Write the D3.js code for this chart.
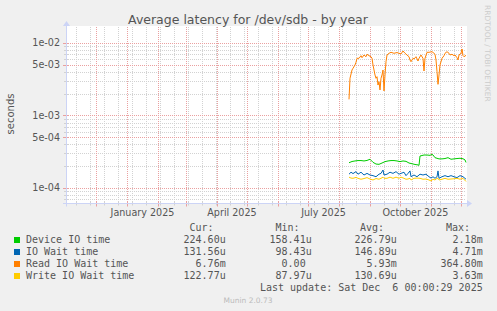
<!DOCTYPE html>
<html><head><meta charset="utf-8">
<script src="https://cdn.jsdelivr.net/npm/d3@7"></script>
<style>html,body{margin:0;padding:0;background:#f0f0f0;} svg{display:block;} text{white-space:pre;}</style>
</head><body><svg id="c" width="497" height="311"></svg>
<script>
// ---------- data ----------
const deviceDates = ["2025-08-11","2025-08-14","2025-08-17","2025-08-20","2025-08-23","2025-08-26","2025-08-29","2025-09-01","2025-09-04","2025-09-07","2025-09-10","2025-09-13","2025-09-16","2025-09-19","2025-09-22","2025-09-25","2025-09-28","2025-10-01","2025-10-04","2025-10-07","2025-10-10","2025-10-13","2025-10-16","2025-10-19","2025-10-20","2025-10-21","2025-10-25","2025-10-28","2025-10-31","2025-11-02","2025-11-03","2025-11-05","2025-11-09","2025-11-12","2025-11-15","2025-11-18","2025-11-21","2025-11-24","2025-11-27","2025-11-30","2025-12-03","2025-12-05","2025-12-06"];
const deviceValues = [223,232,236,239,239,236,240,249,226,214,212,221,231,236,239,239,236,231,236,233,221,216,211,208,205,276,285,285,282,291,285,262,252,252,255,262,249,252,255,257,253,244,225]; // µs

const waitDates = ["2025-08-11","2025-08-13","2025-08-15","2025-08-18","2025-08-20","2025-08-23","2025-08-26","2025-08-29","2025-09-01","2025-09-04","2025-09-07","2025-09-10","2025-09-12","2025-09-14","2025-09-15","2025-09-18","2025-09-21","2025-09-24","2025-09-27","2025-09-30","2025-10-02","2025-10-05","2025-10-07","2025-10-09","2025-10-11","2025-10-12","2025-10-15","2025-10-18","2025-10-21","2025-10-24","2025-10-27","2025-10-30","2025-11-01","2025-11-03","2025-11-05","2025-11-07","2025-11-08","2025-11-09","2025-11-12","2025-11-15","2025-11-18","2025-11-21","2025-11-24","2025-11-27","2025-11-30","2025-12-03","2025-12-06"];
const ioWaitValues = [155,165,158,168,155,165,151,159,151,148,143,155,159,177,151,155,165,159,168,155,159,165,148,159,172,143,151,143,155,151,155,143,137,143,136,143,172,136,143,148,143,148,143,139,148,143,132]; // µs
const writeWaitValues = [141,137,136,140,136,132,135,139,133,129,135,132,136,141,136,136,141,136,141,136,141,136,132,133,136,129,136,137,136,132,133,129,125,132,129,136,136,129,132,136,132,133,134,136,132,136,123]; // µs

const readDates = ["2025-08-11","2025-08-12","2025-08-14","2025-08-15","2025-08-17","2025-08-18","2025-08-19","2025-08-21","2025-08-23","2025-08-24","2025-08-26","2025-08-28","2025-08-29","2025-08-31","2025-09-02","2025-09-03","2025-09-04","2025-09-06","2025-09-07","2025-09-08","2025-09-09","2025-09-10","2025-09-11","2025-09-12","2025-09-13","2025-09-14","2025-09-15","2025-09-16","2025-09-17","2025-09-18","2025-09-20","2025-09-22","2025-09-25","2025-09-28","2025-10-02","2025-10-04","2025-10-06","2025-10-08","2025-10-10","2025-10-11","2025-10-12","2025-10-14","2025-10-15","2025-10-17","2025-10-19","2025-10-20","2025-10-22","2025-10-24","2025-10-25","2025-10-26","2025-10-28","2025-10-30","2025-11-02","2025-11-04","2025-11-05","2025-11-06","2025-11-07","2025-11-08","2025-11-09","2025-11-10","2025-11-12","2025-11-14","2025-11-15","2025-11-17","2025-11-19","2025-11-20","2025-11-22","2025-11-24","2025-11-25","2025-11-27","2025-11-28","2025-11-29","2025-12-01","2025-12-02","2025-12-03","2025-12-04","2025-12-06"];
const readWaitValues = [1.67,3.26,4.24,4.48,4.97,5.42,6.15,6.15,6.68,6.27,6.83,6.47,6.99,6.68,6.47,6.15,4.97,3.62,3.26,3.43,2.63,2.93,2.25,3.26,3.62,4.24,2.18,3.62,5.52,6.83,7.21,7.44,7.21,7.38,7.05,7.76,7.21,6.83,6.47,5.83,5.52,6.15,6.02,6.47,5.64,6.15,6.83,6.15,4.11,6.15,7.44,7.44,7.59,7.21,6.99,5.83,4.02,2.69,3.62,4.97,6.15,6.68,7.21,7.59,7.21,6.83,6.99,6.68,6.83,6.27,5.83,6.83,7.21,8.27,6.68,6.47,6.76]; // ms

const seriesNames = ["Device IO time","IO Wait time","Read IO Wait time","Write IO Wait time"];
const seriesColors = ["#00cc00","#0066b3","#ff8000","#ffcc00"];
const curValues = ["224.60u","131.56u","6.76m","122.77u"];
const minValues = ["158.41u","98.43u","0.00\u00a0","87.97u"];
const avgValues = ["226.79u","146.89u","5.93m","130.69u"];
const maxValues = ["2.18m","4.71m","364.80m","3.63m"];

const yTickValues = [1e-4,5e-4,1e-3,5e-3,1e-2];
const yTickLabels = ["1e-04","5e-04","1e-03","5e-03","1e-02"];
const xLabelMonths = ["2025-01-01","2025-04-01","2025-07-01","2025-10-01"];
const xLabelTexts = ["January 2025","April 2025","July 2025","October 2025"];

const titleText = "Average latency for /dev/sdb - by year";
const yAxisTitle = "seconds";
const lastUpdate = "Last update: Sat Dec  6 00:00:29 2025";
const watermark = "RRDTOOL / TOBI OETIKER";
const footer = "Munin 2.0.73";

// ---------- drawing ----------
const svg = d3.select("#c");
const parse = d3.utcParse("%Y-%m-%d");
const endTime = new Date(Date.UTC(2025,11,6,0,0,29));
const startTime = new Date(+endTime - 400*864e5);
const L = 66, R = 466, T = 27, B = 203.5;
const x = d3.scaleUtc().domain([startTime,endTime]).range([L,R]);
const y = d3.scaleLog().domain([6.11e-5,1.662e-2]).range([B,T]);
const px = v => Math.round(v) + 0.5;

svg.append("rect").attr("width",497).attr("height",311).attr("fill","#f0f0f0");
svg.append("rect").attr("x",L).attr("y",T-1).attr("width",R-L+1).attr("height",B-T+1).attr("fill","#ffffff");

const FONT = "DejaVu Sans, sans-serif";
const MINOR = "#d2d2d2", MAJOR = "#eaa0a0", AXIS = "#ccd4f6", TEXTC = "#555555";

// horizontal grid
const minorY = [];
for (let k=-5;k<=-2;k++) for (let m=1;m<=9;m++){
  const v = m*Math.pow(10,k);
  if (v>=y.domain()[0] && v<=y.domain()[1] && !yTickValues.some(t=>Math.abs(t-v)/v<1e-6)) minorY.push(v);
}
const g = svg.append("g");
g.selectAll(".hm").data(minorY).join("line")
  .attr("x1",L).attr("x2",R).attr("y1",d=>px(y(d))).attr("y2",d=>px(y(d)))
  .attr("stroke",MINOR).attr("stroke-dasharray","1,1");
// vertical minor grid (every two weeks)
const minorX = d3.utcDay.range(parse("2024-11-11"), endTime, 14).filter(d=>x(d)>L+0.5);
g.selectAll(".vm").data(minorX).join("line")
  .attr("x1",d=>px(x(d))).attr("x2",d=>px(x(d))).attr("y1",T).attr("y2",B)
  .attr("stroke",MINOR).attr("stroke-dasharray","1,1");
// major grid
const majorX = d3.utcMonth.range(startTime,endTime).filter(d=>x(d)>L+0.5);
g.selectAll(".vM").data(majorX).join("line")
  .attr("x1",d=>px(x(d))).attr("x2",d=>px(x(d))).attr("y1",T).attr("y2",B)
  .attr("stroke",MAJOR).attr("stroke-dasharray","1,1");
g.selectAll(".hM").data(yTickValues).join("line")
  .attr("x1",L).attr("x2",R).attr("y1",d=>px(y(d))).attr("y2",d=>px(y(d)))
  .attr("stroke",MAJOR).attr("stroke-dasharray","1,1");

// axis ticks
g.selectAll(".tm").data(minorX).join("line")
  .attr("x1",d=>px(x(d))).attr("x2",d=>px(x(d))).attr("y1",B-2).attr("y2",B+2).attr("stroke",MINOR);
g.selectAll(".tM").data(majorX).join("line")
  .attr("x1",d=>px(x(d))).attr("x2",d=>px(x(d))).attr("y1",B-2).attr("y2",B+3).attr("stroke",MAJOR);
g.selectAll(".ym").data(minorY).join("line")
  .attr("x1",L-2).attr("x2",L+2).attr("y1",d=>px(y(d))).attr("y2",d=>px(y(d))).attr("stroke",MINOR);
g.selectAll(".yM").data(yTickValues).join("line")
  .attr("x1",L-3).attr("x2",L+2).attr("y1",d=>px(y(d))).attr("y2",d=>px(y(d))).attr("stroke",MAJOR);

// series
const line = d3.line().x(d=>x(d[0])).y(d=>y(d[1]));
const series = [
  {dates:deviceDates, vals:deviceValues.map(v=>v*1e-6), c:seriesColors[0]},
  {dates:waitDates, vals:ioWaitValues.map(v=>v*1e-6), c:seriesColors[1]},
  {dates:readDates, vals:readWaitValues.map(v=>v*1e-3), c:seriesColors[2]},
  {dates:waitDates, vals:writeWaitValues.map(v=>v*1e-6), c:seriesColors[3]}
];
series.forEach(s=>{
  svg.append("path").datum(s.dates.map((d,i)=>[parse(d),s.vals[i]]))
    .attr("d",line).attr("fill","none").attr("stroke",s.c).attr("stroke-width",1);
});

// axes lines + arrows
svg.append("line").attr("x1",L-3).attr("x2",R+3).attr("y1",B).attr("y2",B).attr("stroke",AXIS);
svg.append("path").attr("d",`M${R+1},${B-3.5}L${R+6},${B}L${R+1},${B+3.5}Z`).attr("fill",AXIS);
svg.append("line").attr("x1",L+0.5).attr("x2",L+0.5).attr("y1",B+3).attr("y2",T-4).attr("stroke",AXIS);
svg.append("path").attr("d",`M${L-3},${T-1}L${L+0.5},${T-6}L${L+4},${T-1}Z`).attr("fill",AXIS);

// y labels
svg.selectAll(".yl").data(yTickValues).join("text")
  .attr("x",60).attr("y",d=>y(d)+3.5).attr("text-anchor","end")
  .attr("font-family",FONT).attr("font-size",9.6).attr("fill",TEXTC)
  .text((d,i)=>yTickLabels[i]);
// x labels (centered in month)
svg.selectAll(".xl").data(xLabelMonths).join("text")
  .attr("x",d=>{const s=parse(d); const e=d3.utcMonth.offset(s,1); return (x(s)+x(e))/2;})
  .attr("y",215.5).attr("text-anchor","middle")
  .attr("font-family",FONT).attr("font-size",9.6).attr("fill",TEXTC)
  .text((d,i)=>xLabelTexts[i]);

// title
svg.append("text").attr("x",248).attr("y",24).attr("text-anchor","middle")
  .attr("font-family",FONT).attr("font-size",12.5).attr("fill",TEXTC).text(titleText);
// y title
svg.append("text").attr("transform","translate(14,114) rotate(-90)").attr("text-anchor","middle")
  .attr("font-family",FONT).attr("font-size",10).attr("fill",TEXTC).text(yAxisTitle);
// watermark
svg.append("text").attr("transform","translate(485,5) rotate(90)").attr("text-anchor","start")
  .attr("font-family",FONT).attr("font-size",7.5).attr("fill","#cccccc").text(watermark);
// footer
svg.append("text").attr("x",248).attr("y",302.5).attr("text-anchor","middle")
  .attr("font-family",FONT).attr("font-size",7.5).attr("fill","#bbbbbb").text(footer);

// legend
const MONO = "DejaVu Sans Mono, monospace";
const lg = svg.append("g").attr("font-family",MONO).attr("font-size",10).attr("fill",TEXTC);
const headers = [["Cur:",213.5],["Min:",299.5],["Avg:",384],["Max:",470]];
headers.forEach(h=>lg.append("text").attr("x",h[1]).attr("y",231).attr("text-anchor","end").text(h[0]));
const colsX = [225.7,311.7,396.7,482.7];
const cols = [curValues,minValues,avgValues,maxValues];
seriesNames.forEach((n,i)=>{
  const by = 243.3 + i*12;
  lg.append("rect").attr("x",14).attr("y",by-6.3).attr("width",6).attr("height",6).attr("fill",seriesColors[i]);
  lg.append("text").attr("x",26).attr("y",by).text(n);
  cols.forEach((c,j)=>lg.append("text").attr("x",colsX[j]).attr("y",by).attr("text-anchor","end").text(c[i]));
});
lg.append("text").attr("x",482.7).attr("y",291.3).attr("text-anchor","end").text(lastUpdate);
</script></body></html>
